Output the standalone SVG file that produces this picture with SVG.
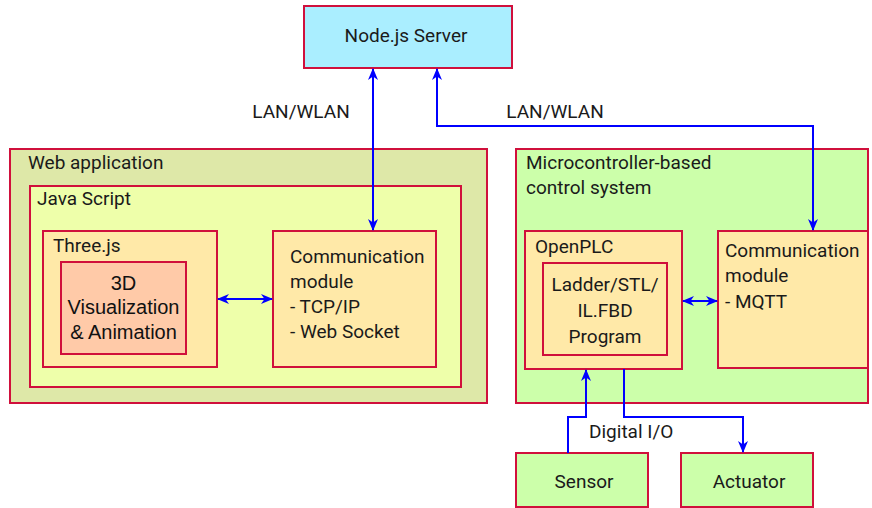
<svg xmlns="http://www.w3.org/2000/svg" width="872" height="508" viewBox="0 0 872 508">
<style>
.box{stroke:#d0103c;stroke-width:2}
.t{font-family:Roboto,"Liberation Sans",sans-serif;font-size:19px;fill:#1a1a1a}
.a{font-family:"Liberation Sans",Arial,sans-serif;font-size:20px;fill:#111}
.c{stroke:#0000ff;stroke-width:2;fill:none}
</style>
<defs>
<marker id="ah" viewBox="0 0 12 10" refX="11" refY="5" markerWidth="12" markerHeight="10" markerUnits="userSpaceOnUse" orient="auto-start-reverse">
<path d="M0,0 L12,5 L0,10 L3.5,5 z" fill="#0000ff"/>
</marker>
</defs>
<rect width="872" height="508" fill="#fff"/>
<g id="server">
<rect class="box" x="304" y="6" width="208" height="62" fill="#aaeeff"/>
<text class="t" x="406" y="42" text-anchor="middle">Node.js Server</text>
</g>
<g id="webapp">
<rect class="box" x="10" y="149" width="477" height="254" fill="#dee8a8"/>
<text class="t" x="28" y="169">Web application</text>
</g>
<g id="javascript">
<rect class="box" x="30" y="186" width="431" height="201" fill="#eeffaa"/>
<text class="t" x="37" y="205">Java Script</text>
</g>
<g id="threejs">
<rect class="box" x="43" y="231" width="174" height="136" fill="#ffe9a8"/>
<text class="t" x="53" y="252">Three.js</text>
</g>
<g id="vis3d">
<rect class="box" x="61" y="262" width="125" height="92" fill="#ffcaa8"/>
<text class="a" x="123.5" y="290" text-anchor="middle">3D</text>
<text class="a" x="123.5" y="314" text-anchor="middle">Visualization</text>
<text class="a" x="123.5" y="339" text-anchor="middle">&amp; Animation</text>
</g>
<g id="commweb">
<rect class="box" x="273" y="231" width="163" height="136" fill="#ffe9a8"/>
<text class="t" x="290" y="263">Communication</text>
<text class="t" x="290" y="288">module</text>
<text class="t" x="290" y="313">- TCP/IP</text>
<text class="t" x="290" y="338">- Web Socket</text>
</g>
<g id="mcu">
<rect class="box" x="516" y="149" width="352" height="254" fill="#ccffaa"/>
<text class="t" x="526" y="169">Microcontroller-based</text>
<text class="t" x="526" y="194">control system</text>
</g>
<g id="openplc">
<rect class="box" x="525" y="231" width="157" height="138" fill="#ffe9a8"/>
<text class="t" x="535" y="253">OpenPLC</text>
</g>
<g id="ladder">
<rect class="box" x="543" y="263" width="124" height="92" fill="#ffe9a8"/>
<text class="t" x="605" y="291" text-anchor="middle">Ladder/STL/</text>
<text class="t" x="605" y="317" text-anchor="middle">IL.FBD</text>
<text class="t" x="605" y="343" text-anchor="middle">Program</text>
</g>
<g id="commmcu">
<rect class="box" x="718" y="231" width="150" height="137" fill="#ffe9a8"/>
<text class="t" x="725" y="257">Communication</text>
<text class="t" x="725" y="282">module</text>
<text class="t" x="725" y="308">- MQTT</text>
</g>
<g id="sensor">
<rect class="box" x="516" y="453" width="132" height="54" fill="#ccffaa"/>
<text class="t" x="584" y="488" text-anchor="middle">Sensor</text>
</g>
<g id="actuator">
<rect class="box" x="681" y="453" width="132" height="54" fill="#ccffaa"/>
<text class="t" x="749" y="488" text-anchor="middle">Actuator</text>
</g>
<g id="connectors">
<path class="c" d="M373,69 V230" marker-start="url(#ah)" marker-end="url(#ah)"/>
<path class="c" d="M437,69 V126 H813 V230" marker-start="url(#ah)" marker-end="url(#ah)"/>
<path class="c" d="M218,299 H272" marker-start="url(#ah)" marker-end="url(#ah)"/>
<path class="c" d="M683,301 H717" marker-start="url(#ah)" marker-end="url(#ah)"/>
<path class="c" d="M568,453 V417 H586 V370" marker-end="url(#ah)"/>
<path class="c" d="M624,369 V417 H743 V452" marker-end="url(#ah)"/>
<text class="t" x="301" y="118" text-anchor="middle">LAN/WLAN</text>
<text class="t" x="555" y="118" text-anchor="middle">LAN/WLAN</text>
<text class="t" x="589" y="438">Digital I/O</text>
</g>
</svg>
